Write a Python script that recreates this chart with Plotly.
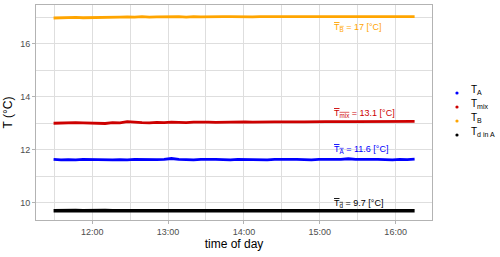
import pandas as pd
import plotly.graph_objects as go

# --- data ---
t_start = "2020-01-01 11:29:30"
t_end = "2020-01-01 16:15:00"

T_B = [16.97,16.98,16.97,16.99,16.98,16.98,16.99,17.00,16.99,17.00,
       17.01,17.00,17.02,17.00,17.01,17.02,17.01,17.02,17.00,17.02,
       17.01,17.02,17.01,17.02,17.02,17.01,17.02,17.01,17.02,17.02,
       17.01,17.02,17.00,17.02,17.02,17.01,17.02,17.02,17.01,17.02,
       17.02,17.02,17.01,17.02,17.02,17.02,17.01,17.02,17.02,17.02]
T_mix = [13.00,13.01,13.00,13.02,13.01,13.00,13.01,12.99,13.02,13.01,
         13.06,13.03,13.02,13.01,13.03,13.02,13.04,13.03,13.02,13.04,
         13.05,13.04,13.03,13.04,13.05,13.04,13.05,13.04,13.05,13.04,
         13.05,13.05,13.04,13.05,13.05,13.06,13.05,13.06,13.06,13.05,
         13.06,13.06,13.06,13.05,13.06,13.06,13.07,13.06,13.07,13.07]
T_A = [11.64,11.62,11.63,11.62,11.64,11.63,11.62,11.63,11.62,11.63,
       11.62,11.64,11.63,11.62,11.63,11.64,11.67,11.64,11.63,11.62,
       11.64,11.65,11.64,11.63,11.62,11.64,11.63,11.64,11.63,11.62,
       11.64,11.63,11.64,11.64,11.63,11.62,11.64,11.63,11.64,11.64,
       11.66,11.64,11.63,11.64,11.64,11.63,11.62,11.64,11.63,11.65]
T_d = [9.70,9.71,9.70,9.71,9.70,9.71,9.70,9.71,9.70,9.70,
       9.71,9.70,9.70,9.70,9.70,9.70,9.70,9.70,9.70,9.70,
       9.70,9.70,9.70,9.70,9.70,9.70,9.70,9.70,9.70,9.70,
       9.70,9.70,9.70,9.70,9.70,9.70,9.70,9.70,9.70,9.70,
       9.70,9.70,9.70,9.70,9.70,9.70,9.70,9.70,9.70,9.70]

series_names = ["T<sub>A</sub>", "T<sub>mix</sub>", "T<sub>B</sub>", "T<sub>d in A</sub>"]
series_values = [T_A, T_mix, T_B, T_d]
series_colors = ["#0000FF", "#CD0000", "#FFA500", "#000000"]
series_widths = [2.8, 2.8, 2.8, 3.5]

label_texts = [
    "<span style='text-decoration:overline'>T<sub>A</sub></span> = 11.6 [°C]",
    "<span style='text-decoration:overline'>T<sub>mix</sub></span> = 13.1 [°C]",
    "<span style='text-decoration:overline'>T<sub>B</sub></span> = 17 [°C]",
    "<span style='text-decoration:overline'>T<sub>d</sub></span> = 9.7 [°C]",
]
label_y = [12.0, 13.38, 16.63, 9.99]
label_x = "2020-01-01 15:10:00"

times = pd.date_range(t_start, t_end, periods=len(T_A))

fig = go.Figure()
for name, vals, col, w in zip(series_names, series_values, series_colors, series_widths):
    fig.add_trace(go.Scatter(x=times, y=vals, mode="lines", name=name,
                             line=dict(color=col, width=w), showlegend=False))

for txt, y, col in zip(label_texts, label_y, series_colors):
    fig.add_annotation(x=label_x, y=y, text=txt, showarrow=False, xanchor="left",
                       yanchor="middle", font=dict(color=col, size=9))

# manual legend (keys as small dots, labels as text) to match ggplot spacing
legend_y = [0.5907, 0.5256, 0.4605, 0.3953]
for name, col, ly in zip(series_names, series_colors, legend_y):
    fig.add_shape(type="circle", xref="paper", yref="paper",
                  xsizemode="pixel", ysizemode="pixel",
                  xanchor=1.0631, yanchor=ly, x0=-1.6, x1=1.6, y0=-1.6, y1=1.6,
                  fillcolor=col, line=dict(width=0))
    fig.add_annotation(xref="paper", yref="paper", x=1.093, y=ly + 0.012, text=name,
                       showarrow=False, xanchor="left", yanchor="middle",
                       font=dict(size=10, color="#000000"))

grid = "#DEDEDE"
fig.update_layout(
    width=500, height=257,
    margin=dict(l=36, r=68, t=5, b=37, autoexpand=False),
    paper_bgcolor="white", plot_bgcolor="white",
    font=dict(family="Liberation Sans, Arial, sans-serif", color="#4D4D4D"),
    showlegend=False,
)
fig.update_xaxes(
    range=["2020-01-01 11:15:36", "2020-01-01 16:28:45"],
    tickformat="%H:%M", dtick=3600000, tick0="2020-01-01 12:00:00",
    showgrid=True, gridcolor=grid, gridwidth=1,
    minor=dict(showgrid=True, gridcolor=grid, gridwidth=0.5, dtick=1800000),
    showline=True, linecolor="#B3B3B3", linewidth=1, mirror=True,
    ticks="outside", ticklen=3, tickcolor="#B3B3B3",
    tickfont=dict(size=9, color="#4D4D4D"),
    title=dict(text="time of day", font=dict(size=12, color="#000000"), standoff=2),
    zeroline=False,
)
fig.update_yaxes(
    range=[9.35, 17.46],
    tickvals=[10, 12, 14, 16],
    showgrid=True, gridcolor=grid, gridwidth=1,
    minor=dict(showgrid=True, gridcolor=grid, gridwidth=0.5, tickvals=[9, 11, 13, 15, 17]),
    showline=True, linecolor="#B3B3B3", linewidth=1, mirror=True,
    ticks="outside", ticklen=3, tickcolor="#B3B3B3",
    tickfont=dict(size=9, color="#4D4D4D"),
    title=dict(text="T (°C)", font=dict(size=12, color="#000000"), standoff=4),
    zeroline=False,
)

fig.write_html("out.html", config={"displayModeBar": False},
               post_script="document.body.style.margin='0px';")
